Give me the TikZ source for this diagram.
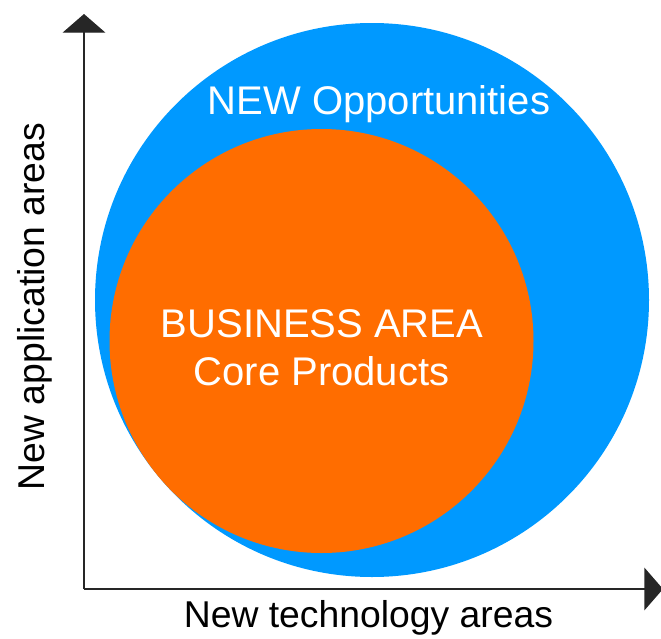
\documentclass[tikz,border=0pt]{standalone}
\usepackage{fontspec}
\setmainfont{Liberation Sans}
\usepackage{tikz}
\usetikzlibrary{arrows.meta}
\definecolor{oppblue}{HTML}{0099FF}
\definecolor{coreorange}{HTML}{FF6D00}
\tikzset{
  axisline/.style={line width=1pt, black!85, -{Triangle[width=32pt,length=14pt,sep=3pt]}},
  bigtext/.style={white, font=\fontsize{30}{36}\selectfont, inner sep=0pt, anchor=base},
  axistext/.style={black, font=\fontsize{28}{34}\selectfont, inner sep=0pt, anchor=base},
}
\begin{document}
\begin{tikzpicture}[x=0.75pt, y=-0.75pt]
  \useasboundingbox (0,0) rectangle (661,639);
  \pgfmathsetmacro{\ox}{84}
  \pgfmathsetmacro{\oy}{589}

  \fill[oppblue] (372,300) circle[radius=277];
  \fill[coreorange] (321.5,341) circle[radius=212];

  \coordinate (origin) at (\ox,\oy);
  \coordinate (ytop) at (\ox,10);
  \coordinate (xend) at (667,\oy);
  \draw[axisline] (origin) -- (ytop);
  \draw[axisline] (origin) -- (xend);

  \node (opp) [bigtext] at (379,114) {NEW Opportunities};
  \node (biz) [bigtext] at (322,337.5) {BUSINESS AREA};
  \node (core) [bigtext] at (321.5,385) {Core Products};

  \node (xlabel) [axistext] at (368.5,627) {New technology areas};
  \node (ylabel) [axistext, rotate=90] at (44,306.5) {New application areas};
\end{tikzpicture}
\end{document}
